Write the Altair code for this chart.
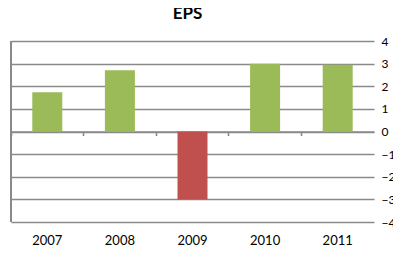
import altair as alt
import pandas as pd

years = ["2007", "2008", "2009", "2010", "2011"]
eps = [1.73, 2.71, -3.0, 3.0, 2.95]
colors = ["#9BBB59", "#9BBB59", "#C0504D", "#9BBB59", "#9BBB59"]
y_ticks = [-4, -3, -2, -1, 0, 1, 2, 3, 4]

df = pd.DataFrame({"year": years, "eps": eps, "color": colors})

W, H = 363, 181
FONT = "Lato"
GRID = "#8a8a8a"

xscale = alt.Scale(domain=years, paddingInner=0, paddingOuter=0)
yscale = alt.Scale(domain=[-4, 4], nice=False)

bars = alt.Chart(df).mark_bar(size=30).encode(
    x=alt.X("year:N", scale=xscale, sort=years,
            axis=alt.Axis(title=None, labelAngle=0, ticks=False, domain=False,
                          labelFont=FONT, labelFontSize=13, labelColor="#000",
                          labelPadding=12)),
    y=alt.Y("eps:Q", scale=yscale,
            axis=alt.Axis(orient="right", values=y_ticks, title=None, domain=False,
                          ticks=False, gridColor=GRID, gridWidth=1.6, gridOpacity=1,
                          labelFont=FONT, labelFontSize=12, labelColor="#000",
                          labelPadding=7, format="d", labelOverlap=False)),
    color=alt.Color("color:N", scale=None),
)

zero_axis = alt.Chart(df).mark_rule(opacity=0).encode(
    x=alt.X("year:N", scale=xscale, sort=years,
            axis=alt.Axis(title=None, labels=False, ticks=True, bandPosition=0,
                          tickSize=4, tickColor=GRID, tickWidth=1.6,
                          domain=True, domainColor=GRID, domainWidth=1.6,
                          grid=False, orient="bottom", offset=-H / 2)),
)

left_line = alt.Chart(df).mark_rule(color=GRID, strokeWidth=1.6).encode(
    x=alt.value(0), y=alt.value(0), y2=alt.value(H)
)

chart = alt.layer(bars, zero_axis, left_line).resolve_axis(x="independent").properties(
    width=W, height=H,
    autosize=alt.AutoSizeParams(type="none"),
    padding={"left": 3, "top": 33, "right": 19, "bottom": 26},
    title=alt.TitleParams("EPS", font=FONT, fontSize=17, fontWeight="bold",
                          color="#000", offset=12, dx=-5),
).configure_view(stroke=None)

chart.save("out.html", embed_options={"renderer": "svg", "actions": False})
